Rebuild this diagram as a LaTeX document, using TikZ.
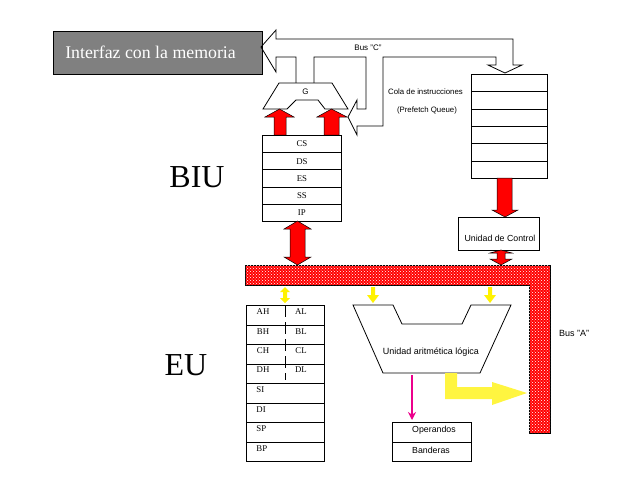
\documentclass[tikz,border=0pt]{standalone}
\usepackage{fontspec}
\setmainfont{Liberation Serif}
\setsansfont{Liberation Sans}
\usetikzlibrary{patterns,arrows.meta}
\begin{document}
\begin{tikzpicture}[x=1pt,y=-1pt,line width=0.8pt,
  regbox/.style={draw,rectangle,anchor=north west,inner sep=0pt,minimum width=79pt,minimum height=17.2pt,font=\fontsize{8.8}{9}\selectfont},
  qbox/.style={draw,rectangle,anchor=north west,inner sep=0pt,minimum width=76pt,minimum height=17.33pt},
  eubox/.style={draw,rectangle,anchor=north west,inner sep=0pt,minimum width=78pt,minimum height=19.5pt},
  regtxt/.style={inner sep=0pt,font=\fontsize{8.8}{9}\selectfont},
  sans/.style={inner sep=0pt,font=\sffamily\fontsize{8}{9}\selectfont},
  redarrow/.style={draw=black,line width=0.5pt,fill=red},
  yelarrow/.style={fill=yellow},
  busfill/.style={draw=black,line width=0.8pt,fill=red,postaction={pattern=crosshatch dots,pattern color=white}},
  big/.style={inner sep=0pt,font=\fontsize{32}{34}\selectfont}
]
\useasboundingbox (0,0) rectangle (640,480);
% memory interface
\node[draw,fill=gray,anchor=north west,minimum width=209pt,minimum height=43pt,inner sep=0pt] (mem) at (53,31) {};
\node[inner sep=0pt,text=white,font=\fontsize{17.8}{18}\selectfont] (memtxt) at (150.5,52) {Interfaz con la memoria};
% Bus C outline
\draw (296,83)--(296,57)--(276,57)--(276,72)--(261,47)--(276,30)--(276,39)--(513,39)--(513,65)--(522,65)--(505,73)--(488,65)--(496,65)--(496,57)--(383,57)--(383,126)--(357,126)--(357,135)--(348,117)--(357,100)--(357,109)--(366,109)--(366,57)--(314,57)--(314,83);
\node[sans,font=\sffamily\fontsize{8}{9}\selectfont] (busc) at (368,48) {Bus "C"};
% G
\draw[fill=white] (279,83)--(332,83)--(348,109)--(325,109)--(318,100)--(296,100)--(287,109)--(263,109)--cycle;
\node[sans] (g) at (305.5,92) {G};
% red arrows into G
\draw[redarrow] (274,135)--(274,117)--(265,117)--(279.5,109)--(294,117)--(286,117)--(286,135)--cycle;
\draw[redarrow] (324,135)--(324,117)--(317,117)--(331.5,109)--(347,117)--(339,117)--(339,135)--cycle;
% segment registers
\node[regbox] (cs) at (262,135) {CS};
\node[regbox] (ds) at (262,152.2) {DS};
\node[regbox] (es) at (262,169.4) {ES};
\node[regbox] (ss) at (262,186.6) {SS};
\node[regbox] (ip) at (262,203.8) {IP};
% double red arrow BIU-bus
\draw[redarrow] (297.5,221)--(311,229)--(305,229)--(305,257)--(311,257)--(297.5,265)--(284,257)--(290,257)--(290,229)--(284,229)--cycle;
% queue
\node[qbox] (q1) at (471,74) {};
\node[qbox] (q2) at (471,91.33) {};
\node[qbox] (q3) at (471,108.67) {};
\node[qbox] (q4) at (471,126) {};
\node[qbox] (q5) at (471,143.33) {};
\node[qbox] (q6) at (471,160.67) {};
\node[sans,font=\sffamily\fontsize{7.8}{9}\selectfont] (cola) at (425.5,92) {Cola de instrucciones};
\node[sans,font=\sffamily\fontsize{7.8}{9}\selectfont] (pq) at (427,110) {(Prefetch Queue)};
% queue -> control
\draw[redarrow] (497,178)--(512,178)--(512,210)--(518,210)--(505,217)--(492,210)--(497,210)--cycle;
\node[draw,anchor=north west,minimum width=81pt,minimum height=33pt,inner sep=0pt] (uc) at (458,217) {};
\node[sans,font=\sffamily\fontsize{8.8}{9}\selectfont] (uctxt) at (500,238.5) {Unidad de Control};
\draw[redarrow] (501,250)--(512,253)--(505,253)--(505,259)--(512,259)--(501,265)--(490,259)--(497,259)--(497,253)--(490,253)--cycle;
% bus A
\draw[busfill] (245,265)--(550,265)--(550,433)--(529,433)--(529,285)--(245,285)--cycle;
\node[sans,font=\sffamily\fontsize{9}{9}\selectfont] (busa) at (574,333) {Bus "A"};
% yellow small arrows
\fill[yelarrow] (285,287)--(290,292)--(287,292)--(287,298)--(290,298)--(285,303)--(280,298)--(283,298)--(283,292)--(280,292)--cycle;
\fill[yelarrow] (371,287)--(375,287)--(375,295)--(379,295)--(373,303)--(367,295)--(371,295)--cycle;
\fill[yelarrow] (488,287)--(492,287)--(492,295)--(496,295)--(490,303)--(484,295)--(488,295)--cycle;
% general registers
\node[eubox] (r1) at (246,305) {};
\node[eubox] (r2) at (246,324.5) {};
\node[eubox] (r3) at (246,344) {};
\node[eubox] (r4) at (246,363.5) {};
\node[eubox] (r5) at (246,383) {};
\node[eubox] (r6) at (246,402.5) {};
\node[eubox] (r7) at (246,422) {};
\node[eubox] (r8) at (246,441.5) {};
\draw[dash pattern=on 12pt off 5pt] (285,305)--(285,380);
\node[regtxt] (ah) at (263,312) {AH};
\node[regtxt] (al) at (301,312) {AL};
\node[regtxt] (bh) at (263,332) {BH};
\node[regtxt] (bl) at (301,332) {BL};
\node[regtxt] (ch) at (263,351) {CH};
\node[regtxt] (cl) at (301,351) {CL};
\node[regtxt] (dh) at (263,370) {DH};
\node[regtxt] (dl) at (301,370) {DL};
\node[regtxt,anchor=west] (si) at (256,390) {SI};
\node[regtxt,anchor=west] (di) at (256,409.5) {DI};
\node[regtxt,anchor=west] (sp) at (256,429) {SP};
\node[regtxt,anchor=west] (bp) at (256,448.5) {BP};
% ALU
\draw (353,305)--(393,305)--(402,324)--(462,324)--(471,305)--(511,305)--(480,373)--(383,373)--cycle;
\node[sans,font=\sffamily\fontsize{9}{9}\selectfont] (alu) at (431,352) {Unidad aritmética lógica};
\draw[magenta,line width=1.8pt,-{Stealth[length=8pt,width=8pt]}] (412,375)--(412,420);
\fill[yellow!75!white] (445,373)--(457,373)--(457,387)--(492,387)--(492,382)--(527,393)--(492,405)--(492,399)--(445,399)--cycle;
% operandos / banderas
\node[draw,anchor=north west,minimum width=79pt,minimum height=20pt,inner sep=0pt] (op) at (392,422) {};
\node[draw,anchor=north west,minimum width=79pt,minimum height=19pt,inner sep=0pt] (ba) at (392,442) {};
\node[sans,font=\sffamily\fontsize{8.8}{9}\selectfont] (optxt) at (434,430) {Operandos};
\node[sans,font=\sffamily\fontsize{8.8}{9}\selectfont] (batxt) at (431,450) {Banderas};
% labels
\node[big] (biu) at (197,177) {BIU};
\node[big] (eu) at (186,365) {EU};
\end{tikzpicture}
\end{document}
